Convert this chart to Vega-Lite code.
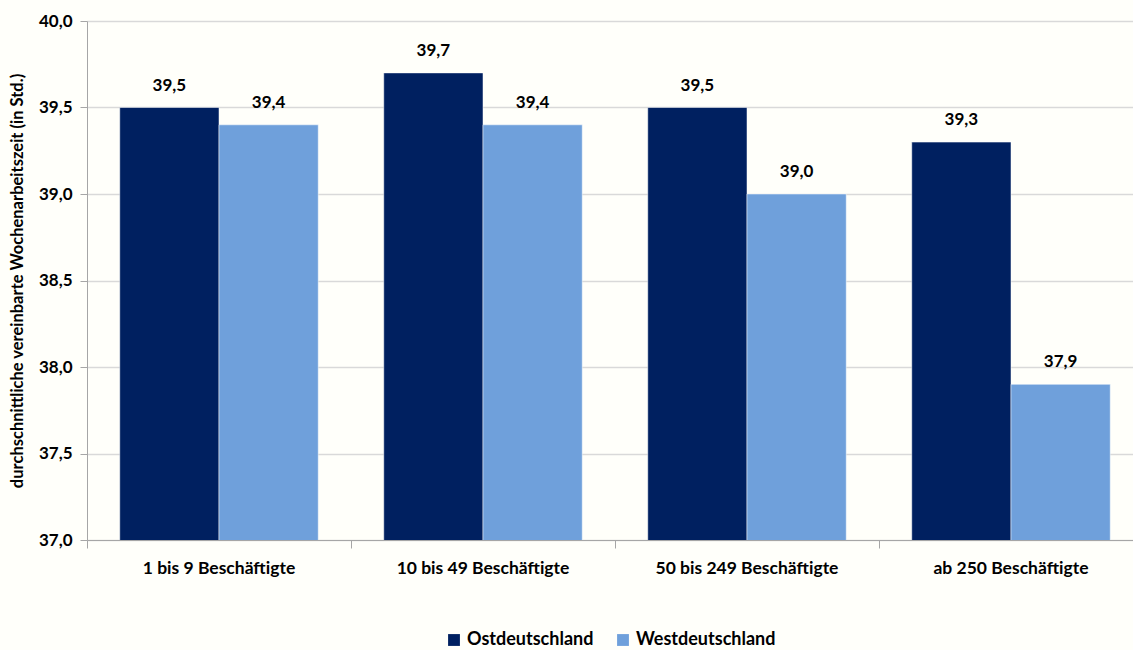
{
  "$schema": "https://vega.github.io/schema/vega-lite/v6.json",
  "autosize": {"type": "none"},
  "width": 1056,
  "height": 519,
  "padding": {"left": 87, "top": 21, "right": 0, "bottom": 110},
  "background": "#fffffa",
  "config": {
    "locale": {"number": {"decimal": ",", "thousands": ".", "grouping": [3], "currency": ["", " €"]}},
    "font": "Lato",
    "view": {"stroke": null}
  },
  "data": {
    "values": [
      {"gruppe": "1 bis 9 Beschäftigte", "region": "Ostdeutschland", "wert": 39.5},
      {"gruppe": "1 bis 9 Beschäftigte", "region": "Westdeutschland", "wert": 39.4},
      {"gruppe": "10 bis 49 Beschäftigte", "region": "Ostdeutschland", "wert": 39.7},
      {"gruppe": "10 bis 49 Beschäftigte", "region": "Westdeutschland", "wert": 39.4},
      {"gruppe": "50 bis 249 Beschäftigte", "region": "Ostdeutschland", "wert": 39.5},
      {"gruppe": "50 bis 249 Beschäftigte", "region": "Westdeutschland", "wert": 39.0},
      {"gruppe": "ab 250 Beschäftigte", "region": "Ostdeutschland", "wert": 39.3},
      {"gruppe": "ab 250 Beschäftigte", "region": "Westdeutschland", "wert": 37.9}
    ]
  },
  "encoding": {
    "x": {
      "field": "gruppe", "type": "nominal", "sort": null,
      "scale": {"paddingInner": 0, "paddingOuter": 0},
      "axis": {
        "title": null, "labelAngle": 0, "labelFont": "Lato", "labelFontSize": 17.5, "labelFontWeight": "bold",
        "labelColor": "#000000", "labelPadding": 11, "labelLimit": 0, "domainColor": "#a6a6a6", "tickColor": "#a6a6a6",
        "tickSize": 8, "bandPosition": 0, "grid": false
      }
    },
    "xOffset": {"field": "region", "type": "nominal", "scale": {"paddingInner": 0, "paddingOuter": 0.33}},
    "y": {
      "field": "wert", "type": "quantitative",
      "scale": {"domain": [37, 40], "zero": false, "nice": false},
      "axis": {
        "title": "durchschnittliche  vereinbarte Wochenarbeitszeit (in Std.)",
        "titleFont": "Lato", "titleFontSize": 16.5, "titleFontWeight": "bold", "titleColor": "#000000",
        "titlePadding": 13,
        "values": [37, 37.5, 38, 38.5, 39, 39.5, 40], "format": ".1f",
        "labelFont": "Lato", "labelFontSize": 17, "labelFontWeight": "bold", "labelColor": "#000000",
        "labelPadding": 8, "domainColor": "#a6a6a6", "tickColor": "#a6a6a6", "tickSize": 7,
        "gridColor": "#d9d9d9", "gridWidth": 1.5
      }
    }
  },
  "layer": [
    {
      "mark": {"type": "bar", "clip": true, "stroke": "#ffffff", "strokeWidth": 0.5},
      "encoding": {
        "color": {
          "field": "region", "type": "nominal",
          "scale": {"domain": ["Ostdeutschland", "Westdeutschland"], "range": ["#002060", "#6fa0db"]},
          "legend": {
            "title": null, "orient": "none", "direction": "horizontal", "legendX": 358, "legendY": 610,
            "symbolType": "square", "symbolSize": 140, "symbolStrokeWidth": 0, "labelFont": "Lato",
            "labelFontSize": 18, "labelFontWeight": "bold", "labelColor": "#000000", "columnPadding": 20
          }
        }
      }
    },
    {
      "mark": {"type": "text", "baseline": "bottom", "dy": -13, "font": "Lato", "fontSize": 17, "fontWeight": "bold", "color": "#000000"},
      "encoding": {
        "text": {"field": "wert", "type": "quantitative", "format": ".1f"}
      }
    }
  ]
}
